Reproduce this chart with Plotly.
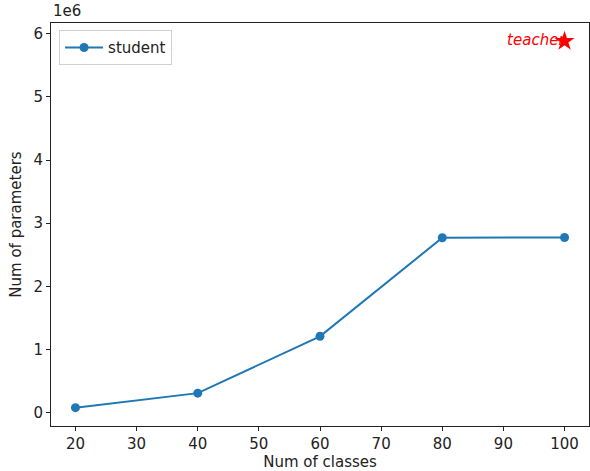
import plotly.graph_objects as go

# Model size versus number of classes
num_classes = [20, 40, 60, 80, 100]
student_params = [0.08e6, 0.31e6, 1.21e6, 2.77e6, 2.775e6]
teacher_classes = [100]
teacher_params = [5.88e6]

y_ticks = [0, 1e6, 2e6, 3e6, 4e6, 5e6, 6e6]
y_tick_text = ["0", "1", "2", "3", "4", "5", "6"]
x_ticks = [20, 30, 40, 50, 60, 70, 80, 90, 100]

BLUE = "#1f77b4"
FONT = "DejaVu Sans"
FS = 15

fig = go.Figure()

fig.add_trace(go.Scatter(
    x=num_classes, y=student_params, mode="lines+markers", name="student",
    line=dict(color=BLUE, width=2), marker=dict(color=BLUE, size=9),
))

# teacher label sits beneath the star marker
fig.add_trace(go.Scatter(
    x=teacher_classes, y=teacher_params, mode="text", text=["teacher"],
    textposition="middle left", showlegend=False, hoverinfo="skip",
    textfont=dict(color="red", size=FS, family=FONT, style="italic"),
))
fig.add_trace(go.Scatter(
    x=teacher_classes, y=teacher_params, mode="markers", showlegend=False,
    marker=dict(symbol="star", color="red", size=15, line=dict(width=0)),
))

axis_common = dict(
    showline=True, linecolor="#222", linewidth=1, mirror=True,
    ticks="outside", ticklen=4, tickcolor="#222", showgrid=False, zeroline=False,
    tickfont=dict(family=FONT, size=FS, color="#222"),
)

fig.update_layout(
    width=590, height=471,
    margin=dict(l=51, r=1, t=23, b=45),
    paper_bgcolor="white", plot_bgcolor="white",
    font=dict(family=FONT, size=FS, color="#222"),
    xaxis=dict(range=[16, 104], tickvals=x_ticks,
               title=dict(text="Num of classes", standoff=4,
                          font=dict(family=FONT, size=FS, color="#222")),
               **axis_common),
    yaxis=dict(range=[-0.21e6, 6.17e6], tickvals=y_ticks, ticktext=y_tick_text,
               title=dict(text="Num of parameters", standoff=8,
                          font=dict(family=FONT, size=FS, color="#222")),
               **axis_common),
    legend=dict(x=0.015, y=0.982, xanchor="left", yanchor="top", itemwidth=38,
                bgcolor="rgba(255,255,255,0.8)", bordercolor="#d0d0d0", borderwidth=1,
                font=dict(family=FONT, size=FS, color="#222")),
    annotations=[dict(text="1e6", xref="paper", yref="paper", x=0, y=1,
                      xanchor="left", yanchor="bottom", showarrow=False, yshift=1,
                      font=dict(family=FONT, size=FS, color="#222"))],
)

fig.write_html("out.html")
